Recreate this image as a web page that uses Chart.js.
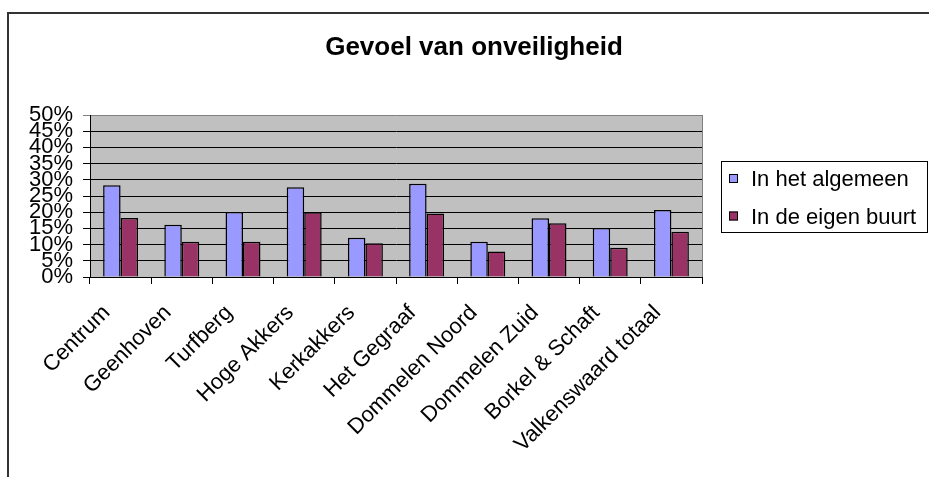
<!DOCTYPE html>
<html>
<head>
<meta charset="utf-8">
<title>Gevoel van onveiligheid</title>
<script src="https://cdn.jsdelivr.net/npm/chart.js"></script>
<style>
    body { margin: 0; background: #fff; }
    canvas { display: block; }
</style>
</head>
<body>
<canvas id="grafiek" width="929" height="477"></canvas>
<script>
// Gegevens
const wijken = ['Centrum', 'Geenhoven', 'Turfberg', 'Hoge Akkers', 'Kerkakkers', 'Het Gegraaf',
    'Dommelen Noord', 'Dommelen Zuid', 'Borkel & Schaft', 'Valkenswaard totaal'];
const inHetAlgemeen = [28.3, 16.1, 20.1, 27.7, 12.1, 28.8, 10.9, 18.1, 15.1, 20.7];
const inDeEigenBuurt = [18.2, 10.9, 10.9, 20.0, 10.4, 19.6, 7.9, 16.6, 9.0, 14.0];
const yTicks = ['0%', '5%', '10%', '15%', '20%', '25%', '30%', '35%', '40%', '45%', '50%'];

const lettertype = "'Liberation Sans', Arial, sans-serif";

// Kader, grijze achtergrond, titel en legenda
const excelStijl = {
    id: 'excelStijl',
    beforeDraw(chart) {
        const { ctx, chartArea: a } = chart;
        ctx.save();
        ctx.fillStyle = '#C0C0C0';
        ctx.fillRect(a.left, a.top, a.right - a.left, a.bottom - a.top);
        ctx.restore();
    },
    afterDraw(chart) {
        const { ctx, chartArea: a } = chart;
        ctx.save();
        // rechterrand plotgebied
        ctx.strokeStyle = '#808080';
        ctx.lineWidth = 1;
        ctx.beginPath();
        ctx.moveTo(a.right + 0.5, a.top);
        ctx.lineTo(a.right + 0.5, a.bottom);
        ctx.stroke();

        // kader
        ctx.strokeStyle = '#333333';
        ctx.lineWidth = 2;
        ctx.beginPath();
        ctx.moveTo(8, 477);
        ctx.lineTo(8, 13);
        ctx.lineTo(929, 13);
        ctx.stroke();

        // titel
        ctx.fillStyle = '#000';
        ctx.font = 'bold 26px ' + lettertype;
        ctx.textAlign = 'center';
        ctx.textBaseline = 'middle';
        ctx.fillText('Gevoel van onveiligheid', 474, 48);

        // legenda
        ctx.lineWidth = 1;
        ctx.strokeStyle = '#000';
        ctx.strokeRect(721.5, 161.5, 206, 71);
        ctx.font = '22px ' + lettertype;
        ctx.textAlign = 'left';
        chart.data.datasets.forEach((ds, i) => {
            const y = 179 + i * 37.5;
            ctx.fillStyle = ds.backgroundColor;
            ctx.fillRect(729, y - 5, 9, 9);
            ctx.strokeRect(729.5, y - 4.5, 8, 8);
            ctx.fillStyle = '#000';
            ctx.fillText(ds.label, 751, y + 1);
        });
        ctx.restore();
    }
};

const ctx = document.getElementById('grafiek');
new Chart(ctx, {
    type: 'bar',
    data: {
        labels: wijken,
        datasets: [{
            label: 'In het algemeen',
            data: inHetAlgemeen,
            backgroundColor: '#9999FF',
            borderColor: '#000',
            borderWidth: 1.5
        }, {
            label: 'In de eigen buurt',
            data: inDeEigenBuurt,
            backgroundColor: '#993366',
            borderColor: '#000',
            borderWidth: 1.5
        }]
    },
    options: {
        responsive: false,
        animation: false,
        layout: { padding: { top: 115, right: 227, left: 0, bottom: 0 } },
        datasets: { bar: { categoryPercentage: 0.571, barPercentage: 1 } },
        plugins: {
            legend: { display: false },
            title: { display: false },
            tooltip: { enabled: false }
        },
        scales: {
            x: {
                afterFit: (s) => { s.height = 200; },
                grid: { drawOnChartArea: false, color: '#000', tickLength: 7 },
                border: { color: '#000' },
                ticks: {
                    autoSkip: false, minRotation: 45, maxRotation: 45, padding: 16, labelOffset: -14,
                    color: '#000', font: { family: lettertype, size: 22 }
                }
            },
            y: {
                min: 0,
                max: 50,
                afterFit: (s) => { s.width = 90; },
                grid: {
                    color: (c) => c.tick && c.tick.value === 50 ? '#808080' : '#000',
                    tickLength: 7
                },
                border: { color: '#000' },
                ticks: {
                    stepSize: 5, autoSkip: false, padding: 10, color: '#000',
                    font: { family: lettertype, size: 22 },
                    callback: (v, i) => yTicks[i]
                }
            }
        }
    },
    plugins: [excelStijl]
});
</script>
</body>
</html>
